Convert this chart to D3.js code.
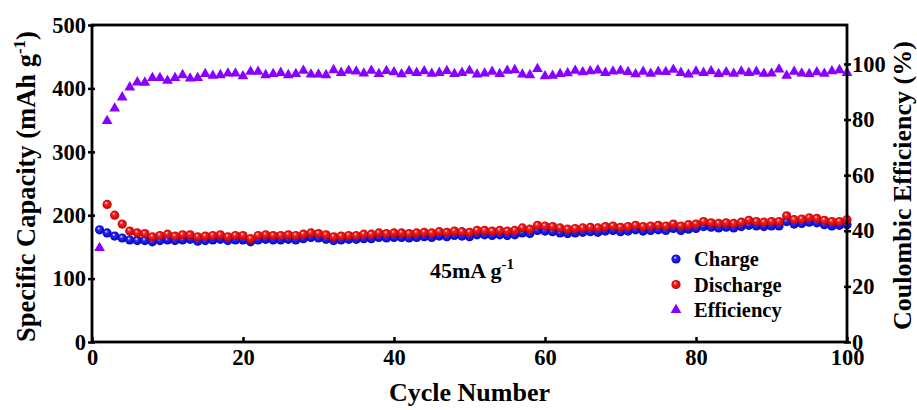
<!DOCTYPE html>
<html>
<head>
<meta charset="utf-8">
<script src="https://cdn.jsdelivr.net/npm/d3@7"></script>
<style>
  body { margin: 0; background: #fff; }
  text { font-family: "Liberation Serif", "Times New Roman", serif; font-weight: bold; fill: #000; }
</style>
</head>
<body>
<div id="container"></div>
<script>
/** DATA */
const cycles = d3.range(1, 101);

const charge = [177,172,167,164,161,160,160,158,160,161,160,161,162,159,160,161,162,160,161,161,
  158,161,162,161,161,162,161,163,165,164,162,160,161,162,162,163,163,165,164,165,
  165,164,165,166,165,167,166,168,167,166,169,169,168,169,168,169,172,171,176,175,
  174,172,171,172,173,174,173,175,176,174,175,177,175,176,177,176,179,176,178,179,
  182,181,180,181,180,182,184,183,182,183,183,190,186,187,189,188,185,183,184,185];

// discharge starts at cycle 2
const discharge = [null,217,200,186,175,172,171,166,168,170,167,169,169,166,167,168,169,166,168,168,
  163,168,169,168,168,169,168,170,172,171,169,166,167,168,168,170,170,172,171,172,
  172,171,172,173,172,174,173,175,174,173,176,176,175,176,175,176,180,178,184,183,
  182,180,178,179,180,181,180,182,183,181,182,184,182,183,184,183,186,183,185,186,
  190,188,187,188,187,189,192,190,189,190,190,199,193,194,196,195,192,190,190,193];

const efficiency = [33.8,79.5,84,88,91.6,93.4,93.3,95,95,94,95,96,94.8,95,96.4,95.8,96,96.6,96.6,95.6,
  97.2,97.2,96,96.4,96.8,96,96.4,97.6,96.2,96.2,96,97.8,96.8,97.6,97.3,96.6,97.6,96.4,97.5,97,
  96.3,97.4,96.8,97.4,96.5,96.8,97.5,96.4,96.8,97.6,96.2,96.6,97.2,96.4,97.6,97.8,96.2,96,98.2,95.6,
  95.8,96.4,96.7,97.6,97,97.4,97.7,96.8,97.3,97.6,97.1,96.3,97.2,96.5,97.2,97.1,97.9,96.8,96.2,97.3,
  96.8,97.4,96.4,97,96.5,97.3,96.8,97.2,96.5,96.6,98,95.8,97.2,96.6,96.4,97,96.5,97.4,97.8,96.8];

const xTicks = [0, 20, 40, 60, 80, 100];
const yLeftTicks = [0, 100, 200, 300, 400, 500];
const yRightTicks = [0, 20, 40, 60, 80, 100];
const legendItems = ["Charge", "Discharge", "Efficiency"];

/** CONSTANTS */
const width = 917, height = 410,
  margin = { top: 25, bottom: 68, left: 92, right: 70 };

const svg = d3.select("#container")
  .append("svg")
  .attr("width", width)
  .attr("height", height);

const x = d3.scaleLinear().domain([0, 100]).range([margin.left, width - margin.right]);
const yL = d3.scaleLinear().domain([0, 500]).range([height - margin.bottom, margin.top]);
const yR = d3.scaleLinear().domain([0, 114]).range([height - margin.bottom, margin.top]);

// ball gradients
const defs = svg.append("defs");
function ball(id, dark, mid) {
  const g = defs.append("radialGradient").attr("id", id)
    .attr("cx", "50%").attr("cy", "50%").attr("r", "55%")
    .attr("fx", "38%").attr("fy", "32%");
  g.append("stop").attr("offset", "0%").attr("stop-color", "#ffffff");
  g.append("stop").attr("offset", "30%").attr("stop-color", mid);
  g.append("stop").attr("offset", "100%").attr("stop-color", dark);
}
ball("gBlue", "#0000b0", "#2a2aff");
ball("gRed", "#b00000", "#ff2020");

const purple = "#8a00ff";
const tri = d3.symbol().type(d3.symbolTriangle).size(50);

// efficiency
svg.append("g").selectAll("path")
  .data(cycles.map((c, i) => [c, efficiency[i]]))
  .join("path")
  .attr("d", tri)
  .attr("transform", d => `translate(${x(d[0])},${yR(d[1])})`)
  .attr("fill", purple);

// charge
svg.append("g").selectAll("circle")
  .data(cycles.map((c, i) => [c, charge[i]]))
  .join("circle")
  .attr("cx", d => x(d[0]))
  .attr("cy", d => yL(d[1]))
  .attr("r", 4.6)
  .attr("fill", "url(#gBlue)");

// discharge
svg.append("g").selectAll("circle")
  .data(cycles.map((c, i) => [c, discharge[i]]).filter(d => d[1] != null))
  .join("circle")
  .attr("cx", d => x(d[0]))
  .attr("cy", d => yL(d[1]))
  .attr("r", 4.6)
  .attr("fill", "url(#gRed)");

// axes
const tickStyle = g => {
  g.select(".domain").remove();
  g.selectAll("line").attr("stroke", "#000").attr("stroke-width", 2.5);
  g.selectAll("text").style("font-size", "22.5px").style("font-family", "Liberation Serif").style("font-weight", "bold");
};

svg.append("g")
  .attr("transform", `translate(0,${height - margin.bottom})`)
  .call(d3.axisBottom(x).tickValues(xTicks).tickSize(-5).tickPadding(7).tickSizeOuter(0))
  .call(tickStyle);

svg.append("g")
  .attr("transform", `translate(${margin.left},0)`)
  .call(d3.axisLeft(yL).tickValues(yLeftTicks).tickSize(0).tickPadding(6))
  .call(tickStyle)
  .call(g => g.selectAll(".tick line").attr("x1", -4).attr("x2", 3));

svg.append("g")
  .attr("transform", `translate(${width - margin.right},0)`)
  .call(d3.axisRight(yR).tickValues(yRightTicks).tickSize(0).tickPadding(5))
  .call(tickStyle)
  .call(g => g.selectAll(".tick line").attr("x1", -3).attr("x2", 4));

// frame
svg.append("rect")
  .attr("x", margin.left).attr("y", margin.top)
  .attr("width", width - margin.left - margin.right)
  .attr("height", height - margin.top - margin.bottom)
  .attr("fill", "none").attr("stroke", "#000").attr("stroke-width", 2.8);

// axis titles
svg.append("text")
  .attr("x", x(50)).attr("y", 401)
  .attr("text-anchor", "middle")
  .style("font-size", "26px")
  .text("Cycle Number");

const yt = svg.append("text")
  .attr("transform", `translate(35,${(margin.top + height - margin.bottom) / 2 + 3}) rotate(-90)`)
  .attr("text-anchor", "middle")
  .style("font-size", "26.5px");
yt.append("tspan").text("Specific Capacity (mAh g");
yt.append("tspan").attr("dy", -10).style("font-size", "17px").text("-1");
yt.append("tspan").attr("dy", 10).text(")");

svg.append("text")
  .attr("transform", `translate(911,${(margin.top + height - margin.bottom) / 2 + 2}) rotate(-90)`)
  .attr("text-anchor", "middle")
  .style("font-size", "26px")
  .text("Coulombic Efficiency (%)");

// annotation
const ann = svg.append("text")
  .attr("x", 430).attr("y", 278)
  .style("font-size", "22px");
ann.append("tspan").text("45mA g");
ann.append("tspan").attr("dy", -9).style("font-size", "15px").text("-1");

// legend
const legend = svg.append("g").attr("transform", "translate(676,259)");
legendItems.forEach((name, i) => {
  const g = legend.append("g").attr("transform", `translate(0,${i * 25.5})`);
  if (i < 2) {
    g.append("circle").attr("r", 4.6).attr("fill", i === 0 ? "url(#gBlue)" : "url(#gRed)");
  } else {
    g.append("path").attr("d", tri).attr("fill", purple);
  }
  g.append("text").attr("x", 18).attr("y", 7).style("font-size", "20.5px").text(name);
});
</script>
</body>
</html>
